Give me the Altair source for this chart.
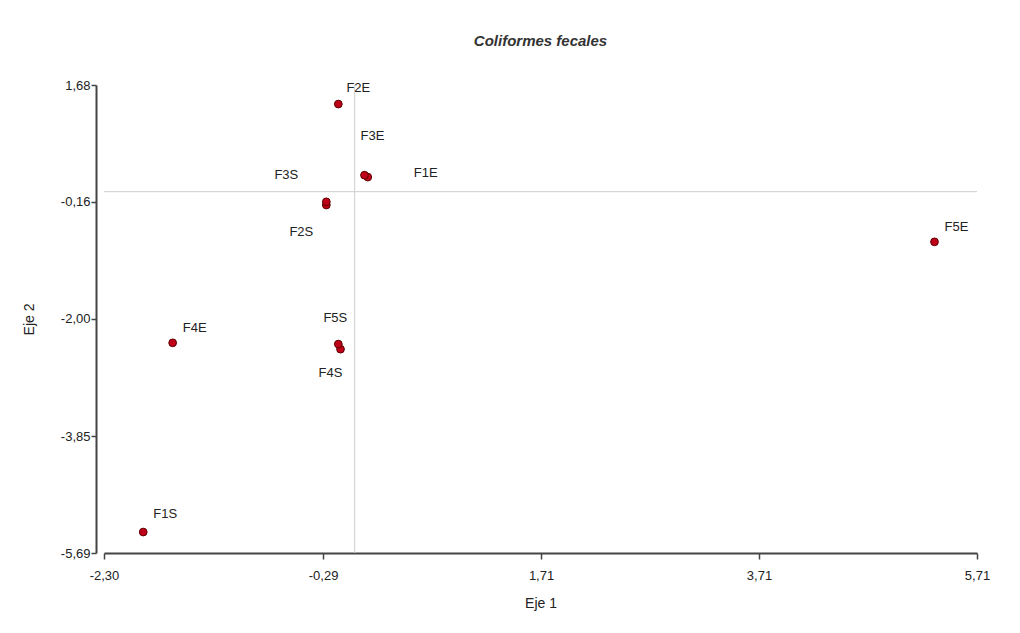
import altair as alt
import pandas as pd

# ---- data ----
names = ["F1E", "F2E", "F3E", "F4E", "F5E", "F1S", "F2S", "F3S", "F4S", "F5S"]
eje1 = [0.12, -0.15, 0.09, -1.67, 5.32, -1.94, -0.26, -0.26, -0.13, -0.15]
eje2 = [0.23, 1.38, 0.26, -2.38, -0.79, -5.36, -0.21, -0.16, -2.48, -2.40]

x_ticks = [-2.30, -0.29, 1.71, 3.71, 5.71]
y_ticks = [1.68, -0.16, -2.00, -3.85, -5.69]

# label placement (pixel offsets from each point, style only)
label_offsets = {
    "F1E": (58, -4), "F2E": (20, -16), "F3E": (8, -39), "F4E": (22, -15),
    "F5E": (22, -15), "F1S": (22, -18), "F2S": (-25, 27), "F3S": (-40, -27),
    "F4S": (-10, 24), "F5S": (-3, -26),
}

df = pd.DataFrame({"label": names, "eje1": eje1, "eje2": eje2})

FONT = "Liberation Sans"
label_expr = "(datum.value < 0 ? '-' : '') + replace(format(abs(datum.value), '.2f'), '.', ',')"

x_scale = alt.Scale(domain=[x_ticks[0], x_ticks[-1]], nice=False, zero=False)
y_scale = alt.Scale(domain=[y_ticks[-1], y_ticks[0]], nice=False, zero=False)

x_axis = alt.Axis(values=x_ticks, labelExpr=label_expr, title="Eje 1", grid=False,
                  domainColor="#444", domainWidth=2, tickColor="#444", tickWidth=1.5,
                  tickSize=6, labelFont=FONT, labelFontSize=13, labelColor="#222",
                  labelPadding=10, titleFont=FONT, titleFontSize=14, titleFontWeight="normal",
                  titleColor="#222", titlePadding=14, labelFlush=False)
y_axis = alt.Axis(values=y_ticks, labelExpr=label_expr, title="Eje 2", grid=False,
                  domainColor="#444", domainWidth=2, tickColor="#444", tickWidth=1.5,
                  tickSize=5, labelFont=FONT, labelFontSize=13, labelColor="#222",
                  labelPadding=1, titleFont=FONT, titleFontSize=14, titleFontWeight="normal",
                  titleColor="#222", titlePadding=24, offset=8, labelFlush=False)

base = alt.Chart(df)

vline = alt.Chart(pd.DataFrame({"v": [0.0]})).mark_rule(color="#cfcfcf", strokeWidth=1).encode(
    x=alt.X("v:Q", scale=x_scale, axis=x_axis))
hline = alt.Chart(pd.DataFrame({"v": [0.0]})).mark_rule(color="#cfcfcf", strokeWidth=1).encode(
    y=alt.Y("v:Q", scale=y_scale, axis=y_axis))

points = base.mark_point(filled=True, size=60, shape="circle", fill="#c00018",
                         stroke="#5a0000", strokeWidth=1, opacity=1).encode(
    x=alt.X("eje1:Q", scale=x_scale, axis=x_axis),
    y=alt.Y("eje2:Q", scale=y_scale, axis=y_axis),
)

label_layers = []
for n in names:
    dx, dy = label_offsets[n]
    label_layers.append(
        base.transform_filter(alt.datum.label == n).mark_text(
            font=FONT, fontSize=13, color="#222", dx=dx, dy=dy,
            align="center", baseline="middle").encode(
            x=alt.X("eje1:Q", scale=x_scale, axis=x_axis),
            y=alt.Y("eje2:Q", scale=y_scale, axis=y_axis),
            text="label:N")
    )

chart = alt.layer(vline, hline, points, *label_layers).properties(
    width=873, height=468,
    autosize=alt.AutoSizeParams(type="none"),
    padding={"left": 96, "top": 77, "right": 35, "bottom": 72},
    title=alt.TitleParams("Coliformes fecales", font=FONT, fontSize=15, fontStyle="italic",
                          fontWeight="bold", color="#333", offset=30, anchor="middle"),
).configure(background="white").configure_view(stroke=None, strokeWidth=0)

chart.save("out.html", embed_options={"renderer": "svg", "actions": False})
